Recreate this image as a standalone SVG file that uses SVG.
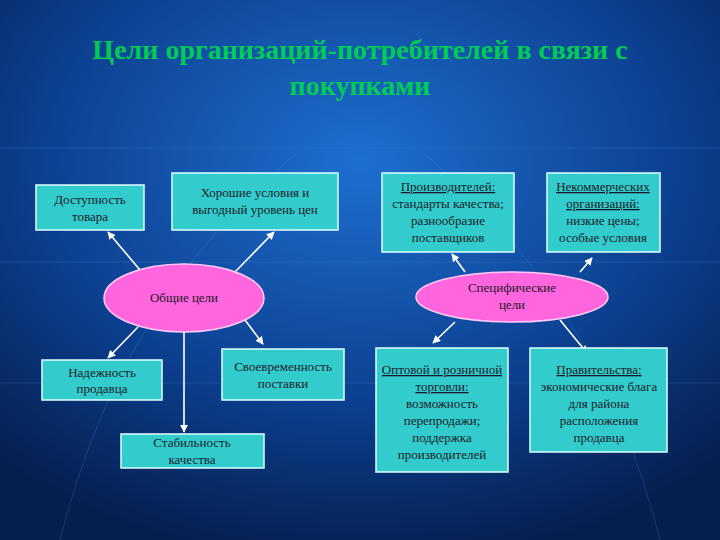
<svg xmlns="http://www.w3.org/2000/svg" width="720" height="540" viewBox="0 0 720 540">
<defs>
<radialGradient id="bg" cx="0.5" cy="0.3" r="0.75">
<stop offset="0" stop-color="#1e6fd0"/><stop offset="0.6" stop-color="#0c3f8e"/><stop offset="1" stop-color="#051e4e"/>
</radialGradient>
<marker id="ah" viewBox="0 0 10 10" refX="9" refY="5" markerWidth="5" markerHeight="5" orient="auto"><path d="M0,0 L10,5 L0,10 z" fill="#ffffff"/></marker>
<style>
.b{fill:#33cccc;stroke:#e0ffff;stroke-width:1.5}
.e{fill:#ff66dd;stroke:#ffccff;stroke-width:1.5}
.t{font-family:"Liberation Serif",serif;font-size:13px;fill:#1a1a2a;text-anchor:middle}
.u{text-decoration:underline}
.c line{stroke:#ffffff;stroke-width:1.6;marker-end:url(#ah)}
</style>
</defs>
<rect width="720" height="540" fill="url(#bg)"/>
<g stroke="#4a8ad8" stroke-opacity="0.25" fill="none">
<path d="M0,262 H720"/><path d="M0,383 H720"/><path d="M0,148 H720"/>
<path d="M60,540 Q120,300 300,150"/><path d="M660,540 Q600,300 420,150"/>
</g>
<text x="360" y="59" font-family="Liberation Serif,serif" font-size="28" font-weight="bold" fill="#00cc55" text-anchor="middle">Цели организаций-потребителей в связи с</text>
<text x="360" y="95" font-family="Liberation Serif,serif" font-size="28" font-weight="bold" fill="#00cc55" text-anchor="middle">покупками</text>
<g class="c">
<line x1="140" y1="270" x2="108" y2="232"/>
<line x1="235" y1="272" x2="274" y2="232"/>
<line x1="138" y1="327" x2="108" y2="358"/>
<line x1="245" y1="320" x2="263" y2="344"/>
<line x1="184" y1="332" x2="184" y2="432"/>
<line x1="465" y1="272" x2="452" y2="254"/>
<line x1="580" y1="272" x2="592" y2="258"/>
<line x1="455" y1="322" x2="433" y2="343"/>
<line x1="560" y1="320" x2="587" y2="353"/>
</g>
<g id="n1"><rect class="b" x="36" y="185" width="108" height="45"/><text class="t" x="90" y="204">Доступность</text><text class="t" x="90" y="221">товара</text></g>
<g id="n2"><rect class="b" x="172" y="173" width="166" height="57"/><text class="t" x="255" y="197">Хорошие условия и</text><text class="t" x="255" y="214">выгодный уровень цен</text></g>
<g id="n3"><ellipse class="e" cx="184" cy="298" rx="80" ry="34"/><text class="t" x="184" y="302">Общие цели</text></g>
<g id="n4"><rect class="b" x="42" y="360" width="120" height="40"/><text class="t" x="102" y="377">Надежность</text><text class="t" x="102" y="393">продавца</text></g>
<g id="n5"><rect class="b" x="222" y="349" width="122" height="51"/><text class="t" x="283" y="371">Своевременность</text><text class="t" x="283" y="388">поставки</text></g>
<g id="n6"><rect class="b" x="121" y="434" width="143" height="34"/><text class="t" x="192" y="447">Стабильность</text><text class="t" x="192" y="464">качества</text></g>
<g id="n7"><rect class="b" x="382" y="173" width="132" height="79"/><text class="t u" x="448" y="191">Производителей:</text><text class="t" x="448" y="208">стандарты качества;</text><text class="t" x="448" y="225">разнообразие</text><text class="t" x="448" y="242">поставщиков</text></g>
<g id="n8"><rect class="b" x="547" y="173" width="113" height="79"/><text class="t u" x="603" y="191">Некоммерческих</text><text class="t u" x="603" y="208">организаций:</text><text class="t" x="603" y="225">низкие цены;</text><text class="t" x="603" y="242">особые условия</text></g>
<g id="n9"><ellipse class="e" cx="512" cy="297" rx="96" ry="25"/><text class="t" x="512" y="292">Специфические</text><text class="t" x="512" y="309">цели</text></g>
<g id="n10"><rect class="b" x="376" y="348" width="132" height="124"/><text class="t u" x="442" y="374">Оптовой и розничной</text><text class="t u" x="442" y="391">торговли:</text><text class="t" x="442" y="408">возможность</text><text class="t" x="442" y="425">перепродажи;</text><text class="t" x="442" y="442">поддержка</text><text class="t" x="442" y="459">производителей</text></g>
<g id="n11"><rect class="b" x="530" y="348" width="137" height="104"/><text class="t u" x="599" y="374">Правительства:</text><text class="t" x="599" y="391">экономические блага</text><text class="t" x="599" y="408">для района</text><text class="t" x="599" y="425">расположения</text><text class="t" x="599" y="442">продавца</text></g>
</svg>
